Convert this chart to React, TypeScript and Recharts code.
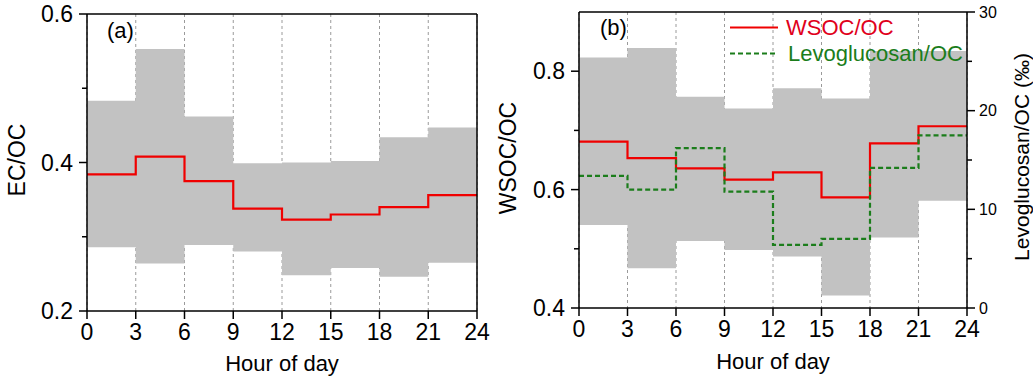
import React from "react";
import {
  ComposedChart, Area, Line, XAxis, YAxis, CartesianGrid, ReferenceLine,
} from "recharts";

// hour bins (3 h), the last value is repeated at 24 so the step closes
const HOURS = [0, 3, 6, 9, 12, 15, 18, 21, 24];
const X_TICKS = [0, 3, 6, 9, 12, 15, 18, 21, 24];

const EC_OC_MEAN = [0.384, 0.408, 0.375, 0.338, 0.323, 0.330, 0.340, 0.356];
const EC_OC_HIGH = [0.483, 0.553, 0.462, 0.399, 0.400, 0.402, 0.434, 0.447];
const EC_OC_LOW  = [0.286, 0.264, 0.289, 0.280, 0.248, 0.258, 0.246, 0.265];

const WSOC_MEAN = [0.681, 0.653, 0.636, 0.617, 0.629, 0.587, 0.678, 0.707];
const WSOC_HIGH = [0.823, 0.839, 0.757, 0.737, 0.771, 0.754, 0.834, 0.834];
const WSOC_LOW  = [0.540, 0.467, 0.513, 0.498, 0.487, 0.421, 0.519, 0.581];
const LEVO_OC   = [13.4, 12.0, 16.2, 11.8, 6.4, 7.0, 14.2, 17.5];

const EC_TICKS = [0.2, 0.3, 0.4, 0.5, 0.6];
const EC_LABELS = [0.2, 0.4, 0.6];
const WSOC_TICKS = [0.4, 0.5, 0.6, 0.7, 0.8];
const WSOC_LABELS = [0.4, 0.6, 0.8];
const LEVO_TICKS = [0, 5, 10, 15, 20, 25, 30];
const LEVO_LABELS = [0, 10, 20, 30];

const FONT = "'Liberation Sans', Arial, Helvetica, sans-serif";
const RED = "#f00000";
const GREEN = "#1b7d1b";
const BAND = "#c2c2c2";

const dataA = HOURS.map((h, i) => {
  const k = Math.min(i, 7);
  return { h, mean: EC_OC_MEAN[k], band: [EC_OC_LOW[k], EC_OC_HIGH[k]] };
});
const dataB = HOURS.map((h, i) => {
  const k = Math.min(i, 7);
  return { h, mean: WSOC_MEAN[k], levo: LEVO_OC[k], band: [WSOC_LOW[k], WSOC_HIGH[k]] };
});

function YTick(props: any) {
  const { x, y, payload, side, labels, fontSize, decimals } = props;
  const v = payload.value;
  const major = labels.some((l: number) => Math.abs(l - v) < 1e-9);
  const dir = side === "left" ? -1 : 1;
  const len = major ? 8 : 5;
  return (
    <g>
      <line x1={x} x2={x + dir * len} y1={y} y2={y} stroke="#000" strokeWidth={1.5} />
      {major && (
        <text
          x={x + dir * (side === "left" ? 14 : 12)}
          y={y}
          dy="0.36em"
          textAnchor={side === "left" ? "end" : "start"}
          fontSize={fontSize}
          fontFamily={FONT}
          fill="#000"
        >
          {v.toFixed(decimals)}
        </text>
      )}
    </g>
  );
}

function Txt({ x, y, size, rotate, color, anchor, children }: any) {
  const tx = anchor === "start" ? "0" : "-50%";
  return (
    <div
      style={{
        position: "absolute", left: x, top: y, whiteSpace: "nowrap",
        transform: `translate(${tx}, -50%)${rotate ? " rotate(-90deg)" : ""}`,
        transformOrigin: anchor === "start" ? "0 50%" : "50% 50%",
        fontFamily: FONT, fontSize: size, color: color || "#000", lineHeight: 1,
      }}
    >
      {children}
    </div>
  );
}

const xTickStyle = { fill: "#000", fontSize: 23, fontFamily: FONT };

export default function App() {
  return (
    <div style={{ position: "fixed", left: 0, top: 0, width: 1033, height: 379, background: "#fff", overflow: "hidden" }}>
      <div style={{ position: "absolute", left: 0, top: 0 }}>
        <ComposedChart width={500} height={379} data={dataA} margin={{ top: 14, right: 23, bottom: 0, left: 0 }}>
          <CartesianGrid vertical horizontal={false} stroke="#9a9a9a" strokeDasharray="3 3" />
          <XAxis
            dataKey="h" type="number" domain={[0, 24]} ticks={X_TICKS} interval={0}
            height={68} tickSize={8} tickMargin={5} tick={xTickStyle}
            axisLine={{ stroke: "#000", strokeWidth: 1.5 }} tickLine={{ stroke: "#000", strokeWidth: 1.5 }}
          />
          <YAxis
            type="number" domain={[0.2, 0.6]} ticks={EC_TICKS} interval={0} width={87}
            tickSize={0} tickMargin={0} tickLine={false}
            axisLine={{ stroke: "#000", strokeWidth: 1.5 }}
            tick={(p: any) => <YTick {...p} side="left" labels={EC_LABELS} fontSize={23} decimals={1} />}
          />
          <Area dataKey="band" type="stepAfter" stroke="none" fill={BAND} fillOpacity={1} isAnimationActive={false} />
          <Line dataKey="mean" type="stepAfter" stroke={RED} strokeWidth={2.2} dot={false} isAnimationActive={false} />
          <ReferenceLine y={0.6} stroke="#000" strokeWidth={1.5} />
          <ReferenceLine x={24} stroke="#000" strokeWidth={1.5} />
        </ComposedChart>
      </div>

      <div style={{ position: "absolute", left: 500, top: 0 }}>
        <ComposedChart width={533} height={379} data={dataB} margin={{ top: 12, right: 0, bottom: 0, left: 0 }}>
          <CartesianGrid vertical horizontal={false} stroke="#9a9a9a" strokeDasharray="3 3" yAxisId="l" />
          <XAxis
            dataKey="h" type="number" domain={[0, 24]} ticks={X_TICKS} interval={0}
            height={71} tickSize={8} tickMargin={5} tick={xTickStyle}
            axisLine={{ stroke: "#000", strokeWidth: 1.5 }} tickLine={{ stroke: "#000", strokeWidth: 1.5 }}
          />
          <YAxis
            yAxisId="l" type="number" domain={[0.4, 0.9]} ticks={WSOC_TICKS} interval={0} width={79}
            tickSize={0} tickMargin={0} tickLine={false}
            axisLine={{ stroke: "#000", strokeWidth: 1.5 }}
            tick={(p: any) => <YTick {...p} side="left" labels={WSOC_LABELS} fontSize={23} decimals={1} />}
          />
          <YAxis
            yAxisId="r" orientation="right" type="number" domain={[0, 30]} ticks={LEVO_TICKS} interval={0} width={66}
            tickSize={0} tickMargin={0} tickLine={false}
            axisLine={{ stroke: "#000", strokeWidth: 1.5 }}
            tick={(p: any) => <YTick {...p} side="right" labels={LEVO_LABELS} fontSize={16} decimals={0} />}
          />
          <Area yAxisId="l" dataKey="band" type="stepAfter" stroke="none" fill={BAND} fillOpacity={1} isAnimationActive={false} />
          <Line yAxisId="l" dataKey="mean" type="stepAfter" stroke={RED} strokeWidth={2.2} dot={false} isAnimationActive={false} />
          <Line yAxisId="r" dataKey="levo" type="stepAfter" stroke={GREEN} strokeWidth={2.2} strokeDasharray="5 3" dot={false} isAnimationActive={false} />
          <ReferenceLine yAxisId="l" y={0.9} stroke="#000" strokeWidth={1.5} />
        </ComposedChart>
      </div>

      <Txt x={16.5} y={160} size={23} rotate>EC/OC</Txt>
      <Txt x={107} y={31} size={22} anchor="start">(a)</Txt>
      <Txt x={282} y={364} size={22}>Hour of day</Txt>

      <Txt x={508} y={158} size={23} rotate>WSOC/OC</Txt>
      <Txt x={600} y={28} size={22} anchor="start">(b)</Txt>
      <Txt x={773} y={362} size={22}>Hour of day</Txt>
      <Txt x={1021} y={157} size={21} rotate>Levoglucosan/OC (‰)</Txt>

      <svg style={{ position: "absolute", left: 0, top: 0 }} width={1033} height={379} pointerEvents="none">
        <line x1={730} x2={778} y1={27.5} y2={27.5} stroke={RED} strokeWidth={2.2} />
        <line x1={730} x2={778} y1={53.5} y2={53.5} stroke={GREEN} strokeWidth={2.2} strokeDasharray="5 3" />
      </svg>
      <Txt x={786} y={28} size={22} color="#e0001b" anchor="start">WSOC/OC</Txt>
      <Txt x={788} y={54} size={22} color={GREEN} anchor="start">Levoglucosan/OC</Txt>
    </div>
  );
}
